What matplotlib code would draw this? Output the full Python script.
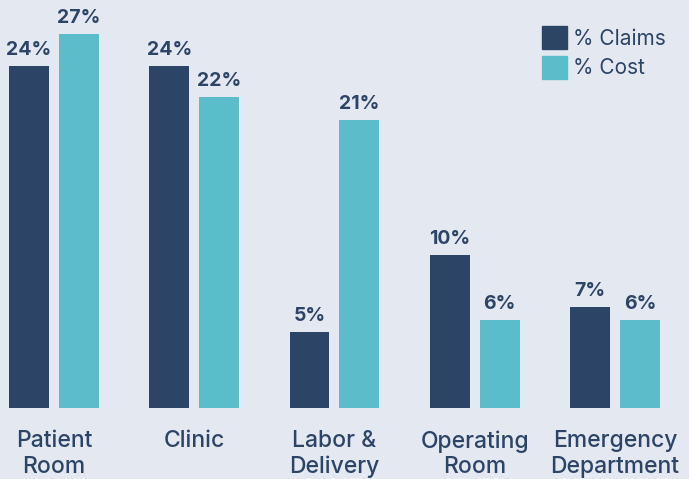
import matplotlib.pyplot as plt
import numpy as np
from matplotlib.patches import Patch

categories = ["Patient\nRoom", "Clinic", "Labor &\nDelivery", "Operating\nRoom", "Emergency\nDepartment"]
# bar heights, labels as printed
claims = [24.4, 24.4, 5.4, 10.9, 7.2]
cost = [26.7, 22.2, 20.6, 6.3, 6.3]
claims_lbl = ["24%", "24%", "5%", "10%", "7%"]
cost_lbl = ["27%", "22%", "21%", "6%", "6%"]

bg = "#e4e9f1"
navy = "#2c4466"
teal = "#5bbdc9"
txt = "#2c4466"

plt.rcParams['font.family'] = ['Inter', 'DejaVu Sans']

fig = plt.figure(figsize=(6.89, 4.79), dpi=100, facecolor=bg)
ax = fig.add_axes([0, 71 / 479, 1, 408 / 479], facecolor=bg)

x = np.arange(len(categories))
w = 0.285
off = 0.178
b1 = ax.bar(x - off, claims, w, color=navy)
b2 = ax.bar(x + off, cost, w, color=teal)

for bars, lbls in ((b1, claims_lbl), (b2, cost_lbl)):
    for r, s in zip(bars, lbls):
        ax.text(r.get_x() + r.get_width() / 2, r.get_height() + 0.5, s, ha="center", va="bottom",
                fontsize=14, fontweight="bold", color=txt)

ax.set_xlim(-0.385, 4.528)
ax.set_ylim(0, 408 / 14)
ax.set_xticks(x)
ax.set_xticklabels(categories, fontsize=16.5, fontweight="medium", color=txt, linespacing=1.2, va="top")
ax.tick_params(axis="x", length=0, pad=16)
ax.set_yticks([])
for s in ax.spines.values():
    s.set_visible(False)

handles = [Patch(color=navy, label="% Claims"), Patch(color=teal, label="% Cost")]
fig.legend(handles=handles, loc="upper left", bbox_to_anchor=(542 / 689, 1 - 26 / 479), frameon=False,
           fontsize=15, labelcolor=txt, handlelength=1.2, handleheight=1.35,
           handletextpad=0.3, labelspacing=0.3, borderpad=0, borderaxespad=0)

fig.savefig("out.png", dpi=100, facecolor=bg)
